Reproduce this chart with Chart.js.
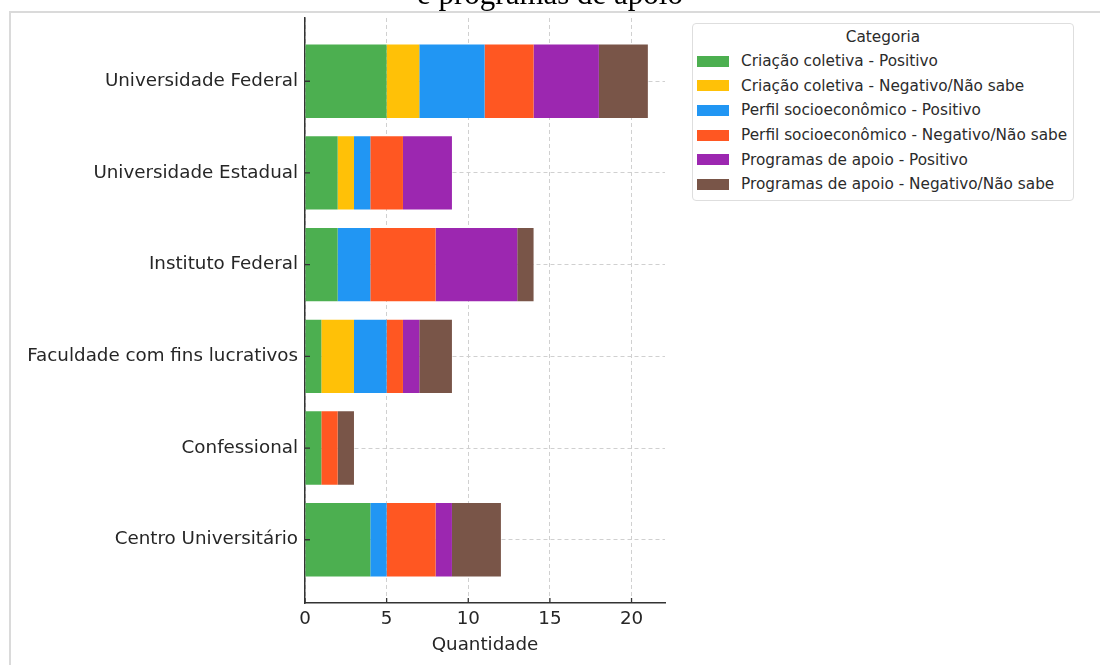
<!DOCTYPE html>
<html>
<head>
<meta charset="utf-8">
<script src="https://cdn.jsdelivr.net/npm/chart.js@4.4.1/dist/chart.umd.min.js"></script>
<style>
  html, body { margin: 0; padding: 0; background: #fff; }
  #wrap { position: relative; width: 1100px; height: 665px; overflow: hidden; }
  #frame { position: absolute; left: 9px; top: 11px; right: 0; bottom: 0;
           border-top: 2px solid #dadada; border-left: 2px solid #dadada; }
  #title { position: absolute; left: 0; top: -22px; width: 1100px; text-align: center;
           font-family: "Liberation Serif", "Times New Roman", serif; font-size: 31px;
           line-height: 31px; color: #000; white-space: nowrap; }
  #chart { position: absolute; left: 0; top: 0; }
  #legend { position: absolute; left: 692px; top: 23px; width: 382px; height: 178px;
            border: 1.5px solid #dedede; border-radius: 4px; background: #fff;
            font-family: "DejaVu Sans", sans-serif; font-size: 15.3px; color: #2b2b2b; box-sizing: border-box; }
  #legend .lt { text-align: center; height: 17px; line-height: 17px; margin-top: 5px; margin-bottom: 3px; }
  #legend .row { height: 24.6px; display: flex; align-items: center; }
  #legend .sw { width: 32px; height: 11px; margin-left: 4px; margin-right: 12px; }
</style>
</head>
<body>
<div id="wrap">
  <div id="frame"></div>
  <canvas id="chart" width="1100" height="665"></canvas>
  <div id="title">e programas de apoio</div>
  <div id="legend"></div>
</div>
<script>
const categories = ['Universidade Federal', 'Universidade Estadual', 'Instituto Federal',
                    'Faculdade com fins lucrativos', 'Confessional', 'Centro Universitário'];

const seriesNames = ['Criação coletiva - Positivo', 'Criação coletiva - Negativo/Não sabe',
                     'Perfil socioeconômico - Positivo', 'Perfil socioeconômico - Negativo/Não sabe',
                     'Programas de apoio - Positivo', 'Programas de apoio - Negativo/Não sabe'];

const criacaoPositivo  = [5, 2, 2, 1, 1, 4];
const criacaoNegativo  = [2, 1, 0, 2, 0, 0];
const perfilPositivo   = [4, 1, 2, 2, 0, 1];
const perfilNegativo   = [3, 2, 4, 1, 1, 3];
const programasPositivo = [4, 3, 5, 1, 0, 1];
const programasNegativo = [3, 0, 1, 2, 1, 3];

const xTicks = [0, 5, 10, 15, 20];

const colors = ['#4CAF50', '#FFC107', '#2196F3', '#FF5722', '#9C27B0', '#795548'];

const allSeries = [criacaoPositivo, criacaoNegativo, perfilPositivo, perfilNegativo, programasPositivo, programasNegativo];

const datasets = allSeries.map((vals, s) => ({
    label: seriesNames[s],
    data: vals.map((v, i) => ({ x: v, y: i })),
    backgroundColor: colors[s],
    borderWidth: 0,
    categoryPercentage: 0.8,
    barPercentage: 1.0
}));

// legend
const legendEl = document.getElementById('legend');
let html = '<div class="lt">Categoria</div>';
seriesNames.forEach((name, s) => {
    html += `<div class="row"><div class="sw" style="background:${colors[s]}"></div><span>${name}</span></div>`;
});
legendEl.innerHTML = html;

const totals = categories.map((_, i) => allSeries.reduce((sum, arr) => sum + arr[i], 0));
const xMax = Math.max(...totals) * 1.05;
const n = categories.length;
const pad = (n - 1 + 0.8) * 0.05 + 0.4;

const tickFont = { family: 'DejaVu Sans', size: 18.3 };

const innerTicks = {
    id: 'innerTicks',
    afterDraw(chart) {
        const ctx = chart.ctx;
        const ys = chart.scales.y;
        const xs = chart.scales.x;
        ctx.save();
        ctx.strokeStyle = '#333';
        ctx.lineWidth = 1.3;
        ctx.beginPath();
        ys.ticks.forEach((t, i) => {
            const py = ys.getPixelForTick(i);
            ctx.moveTo(chart.chartArea.left, py);
            ctx.lineTo(chart.chartArea.left + 5, py);
        });
        xs.ticks.forEach((t, i) => {
            const px = xs.getPixelForTick(i);
            ctx.moveTo(px, chart.chartArea.bottom);
            ctx.lineTo(px, chart.chartArea.bottom - 5);
        });
        ctx.stroke();
        ctx.restore();
    }
};

new Chart(document.getElementById('chart'), {
    type: 'bar',
    data: { datasets },
    options: {
        indexAxis: 'y',
        responsive: false,
        animation: false,
        layout: { padding: { top: 15, right: 435, left: 0, bottom: 0 } },
        plugins: { legend: { display: false }, tooltip: { enabled: false } },
        scales: {
            y: {
                type: 'linear',
                stacked: true,
                reverse: true,
                offset: false,
                min: -pad,
                max: n - 1 + pad,
                afterBuildTicks: scale => { scale.ticks = categories.map((_, i) => ({ value: i })); },
                afterFit: scale => { scale.width = 305; },
                ticks: {
                    callback: v => categories[v],
                    font: tickFont,
                    color: '#262626',
                    padding: 7,
                    autoSkip: false
                },
                grid: { color: '#d0d0d0', lineWidth: 1, drawTicks: false, offset: false },
                border: { display: true, color: '#333', width: 1.5, dash: [4, 3] }
            },
            x: {
                type: 'linear',
                stacked: true,
                offset: false,
                min: 0,
                max: xMax,
                afterBuildTicks: scale => { scale.ticks = xTicks.map(v => ({ value: v })); },
                afterFit: scale => { scale.height = 62; },
                ticks: { font: tickFont, color: '#262626', padding: 5 },
                grid: { color: '#d0d0d0', lineWidth: 1, drawTicks: false, offset: false },
                border: { display: true, color: '#333', width: 1.5, dash: [4, 3] },
                title: { display: true, text: 'Quantidade', font: tickFont, color: '#262626', padding: { top: 5, bottom: 9 } }
            }
        }
    },
    plugins: [innerTicks]
});
</script>
</body>
</html>
